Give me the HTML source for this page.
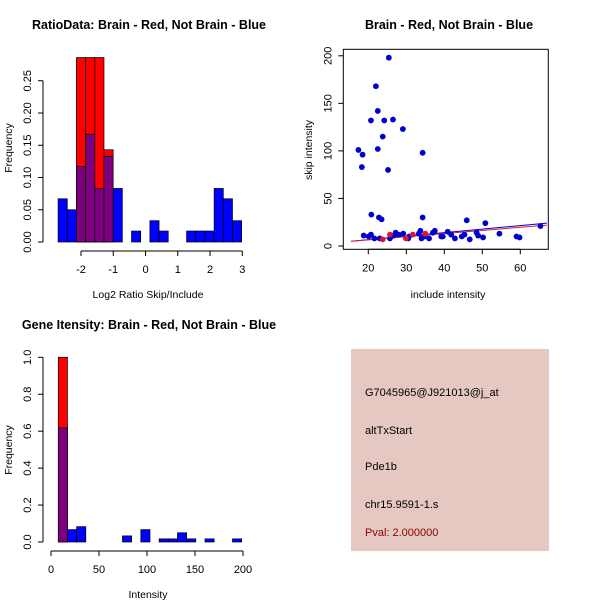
<!DOCTYPE html>
<html><head><meta charset="utf-8"><style>
html,body{margin:0;padding:0;background:#fff}
svg{display:block;font-family:"Liberation Sans",sans-serif}
</style></head><body>
<svg id="chart" width="600" height="600" viewBox="0 0 600 600" xmlns="http://www.w3.org/2000/svg">
<rect width="600" height="600" fill="#fff"/>
<g id="p1"></g>
<g id="p2"></g>
<g id="p3"></g>
<g id="p4">
<rect x="351" y="349" width="198" height="202" fill="#e5c8c1"/>
<text x="365" y="396" font-size="11" fill="#000">G7045965@J921013@j_at</text>
<text x="365" y="434" font-size="11" fill="#000">altTxStart</text>
<text x="365" y="470" font-size="11" fill="#000">Pde1b</text>
<text x="365" y="508" font-size="11" fill="#000">chr15.9591-1.s</text>
<text x="365" y="536" font-size="11" fill="#8b0000">Pval: 2.000000</text>
</g>
</svg>
<script>
// Panel 1 data: ratio histogram
const ratioBinStart = -2.71;
const ratioBinWidth = 0.2845;
const ratioBlue = [0.067,0.05,0.117,0.167,0.083,0.133,0.083,0,0.017,0,0.033,0.017,0,0,0.017,0.017,0.017,0.083,0.067,0.033];
const ratioRed = [0,0,0.286,0.286,0.286,0.143,0,0,0,0,0,0,0,0,0,0,0,0,0,0];
const ratioXTicks = [-2,-1,0,1,2,3];
const ratioYTicks = ["0.00","0.05","0.10","0.15","0.20","0.25"];
// Panel 2 data: scatter
const blueX = [17.4,18.3,18.5,18.8,20.1,20.7,20.7,20.8,21.6,22,22.5,22.5,22.8,23,23.5,23.8,24.2,25.2,25.4,25.7,26.5,26.7,27.2,28,29.1,29.2,30.5,30.7,33.3,33.7,34,34.3,34.3,34.8,36,37,37.5,39.2,39.6,40.9,41.8,42.8,44.6,45.3,45.9,46.7,48.5,48.9,50.2,50.8,54.5,59,59.8,65.3];
const blueY = [101,83,96,11,10,12,132,33,8,168,142,102,30,8,28,115,132,80,198,8,133,11,14,12,123,13,8,10,13,16,8,98,30,10,8,14,16,10,10,15,12,8,10,12,27,7,14,11,9,24,13,10,9,21];
const redX = [23.8,25.7,29.9,31.7,35];
const redY = [7,12,8,12,13];
const fitSlope = [0.369,0.33];
const fitIntercept = [-0.72,-0.1];
const scatterXTicks = [20,30,40,50,60];
const scatterYTicks = [0,50,100,150,200];
// Panel 3 data: intensity histogram
const intBinStart = 7.6;
const intBinWidth = 9.55;
const intBlue = [0.617,0.067,0.083,0,0,0,0,0.033,0,0.067,0,0.017,0.017,0.05,0.017,0,0.017,0,0,0.017];
const intRed = [1.0,0,0,0,0,0,0,0,0,0,0,0,0,0,0,0,0,0,0,0];
const intXTicks = [0,50,100,150,200];
const intYTicks = ["0.0","0.2","0.4","0.6","0.8","1.0"];

const NS="http://www.w3.org/2000/svg";
function mk(parent,tag,attrs,txt){const e=document.createElementNS(NS,tag);for(const k in attrs)e.setAttribute(k,attrs[k]);if(txt!==undefined)e.textContent=txt;parent.appendChild(e);return e;}

function hist(g,o){
  const sx=v=>o.x0+(v-o.xv0)*o.kx, sy=v=>o.y0-v*o.ky;
  for(let i=0;i<o.blue.length;i++){
    const b=o.blue[i], r=o.red[i];
    const xl=sx(o.bs+i*o.bw), xr=sx(o.bs+(i+1)*o.bw);
    const mx=Math.max(b,r), mn=Math.min(b,r);
    if(mx<=0) continue;
    const top=mk(g,'rect',{x:xl,y:sy(mx),width:xr-xl,height:sy(0)-sy(mx),fill:r>b?'#ff0000':'#0000ff',stroke:'#000','stroke-width':0.7});
    
    
    if(mn>0){
      const p=mk(g,'rect',{x:xl,y:sy(mn),width:xr-xl,height:sy(0)-sy(mn),fill:'#7f007f',stroke:'#000','stroke-width':0.7});
      
      
    }
  }
  const xa=mk(g,'g',{});
  
  
  const t0=sx(o.xt[0]), t1=sx(o.xt[o.xt.length-1]);
  mk(xa,'line',{x1:t0,x2:t1,y1:o.axY,y2:o.axY,stroke:'#000'});
  o.xt.forEach(t=>{const x=sx(t);mk(xa,'line',{x1:x,x2:x,y1:o.axY,y2:o.axY+5,stroke:'#000'});
    const l=mk(xa,'text',{x:x,y:o.axY+22,'font-size':11,'text-anchor':'middle'},String(t));
    
    });
  const ya=mk(g,'g',{});
  
  
  const yv=o.yt.map(Number);
  mk(ya,'line',{x1:o.ayX,x2:o.ayX,y1:sy(yv[0]),y2:sy(yv[yv.length-1]),stroke:'#000'});
  o.yt.forEach(t=>{const y=sy(Number(t));mk(ya,'line',{x1:o.ayX,x2:o.ayX-5,y1:y,y2:y,stroke:'#000'});
    const l=mk(ya,'text',{x:0,y:0,'font-size':11,'text-anchor':'middle',transform:`translate(${o.ayX-12},${y}) rotate(-90)`},t);
    
    });
}

const p1=document.getElementById('p1');
hist(p1,{x0:81,xv0:-2,kx:32.26,y0:242,ky:645,bs:ratioBinStart,bw:ratioBinWidth,blue:ratioBlue,red:ratioRed,xt:ratioXTicks,yt:ratioYTicks,axY:251,ayX:43});
mk(p1,'text',{x:149,y:29,'font-size':12.5,'font-weight':'bold','text-anchor':'middle',},'RatioData: Brain - Red, Not Brain - Blue');
mk(p1,'text',{x:148,y:298,'font-size':10.5,'text-anchor':'middle',},'Log2 Ratio Skip/Include');
mk(p1,'text',{x:0,y:0,'font-size':10.5,'text-anchor':'middle',transform:'translate(12,148) rotate(-90)',},'Frequency');

const p3=document.getElementById('p3');
hist(p3,{x0:51,xv0:0,kx:0.96,y0:542,ky:184.7,bs:intBinStart,bw:intBinWidth,blue:intBlue,red:intRed,xt:intXTicks,yt:intYTicks,axY:551,ayX:43});
mk(p3,'text',{x:149,y:329,'font-size':12.5,'font-weight':'bold','text-anchor':'middle',},'Gene Itensity: Brain - Red, Not Brain - Blue');
mk(p3,'text',{x:148,y:598,'font-size':10.5,'text-anchor':'middle',},'Intensity');
mk(p3,'text',{x:0,y:0,'font-size':10.5,'text-anchor':'middle',transform:'translate(12,450) rotate(-90)',},'Frequency');

const p2=document.getElementById('p2');
const bx={l:343.3,r:548.3,t:49.3,b:249.3};
const sx2=v=>368.3+(v-20)*3.8, sy2=v=>246-v*0.951;
const defs=mk(p2,'clipPath',{id:'clip2'});mk(defs,'rect',{x:bx.l,y:bx.t,width:bx.r-bx.l,height:bx.b-bx.t});
const cl=mk(p2,'g',{'clip-path':'url(#clip2)'});
const fitColors=['#0000cd','#dc143c'];
fitSlope.forEach((s,i)=>{const xa=15.5,xb=67;
  const ln=mk(cl,'line',{x1:sx2(xa),y1:sy2(fitIntercept[i]+s*xa),x2:sx2(xb),y2:sy2(fitIntercept[i]+s*xb),stroke:fitColors[i],'stroke-width':1});
  
  });
blueX.forEach((x,i)=>{const c=mk(cl,'circle',{cx:sx2(x),cy:sy2(blueY[i]),r:2.9,fill:'#0000cd'});
  
  });
redX.forEach((x,i)=>{const c=mk(cl,'circle',{cx:sx2(x),cy:sy2(redY[i]),r:2.9,fill:'#dc143c'});
  
  });
mk(p2,'rect',{x:bx.l,y:bx.t,width:bx.r-bx.l,height:bx.b-bx.t,fill:'none',stroke:'#000',});
const xa2=mk(p2,'g',{});
mk(xa2,'line',{x1:sx2(20),x2:sx2(60),y1:bx.b,y2:bx.b,stroke:'#000'});
scatterXTicks.forEach(t=>{const x=sx2(t);mk(xa2,'line',{x1:x,x2:x,y1:bx.b,y2:bx.b+5,stroke:'#000'});
  const l=mk(xa2,'text',{x:x,y:bx.b+22,'font-size':11,'text-anchor':'middle'},String(t));
  
  });
const ya2=mk(p2,'g',{});
scatterYTicks.forEach(t=>{const y=sy2(t);mk(ya2,'line',{x1:bx.l,x2:bx.l-5,y1:y,y2:y,stroke:'#000'});
  const l=mk(ya2,'text',{x:0,y:0,'font-size':11,'text-anchor':'middle',transform:`translate(${bx.l-12},${y}) rotate(-90)`},String(t));
  
  });
mk(p2,'text',{x:449,y:29,'font-size':12.5,'font-weight':'bold','text-anchor':'middle',},'Brain - Red, Not Brain - Blue');
mk(p2,'text',{x:448,y:298,'font-size':10.5,'text-anchor':'middle',},'include intensity');
mk(p2,'text',{x:0,y:0,'font-size':10.5,'text-anchor':'middle',transform:'translate(312,150) rotate(-90)',},'skip intensity');
</script>
</body></html>
